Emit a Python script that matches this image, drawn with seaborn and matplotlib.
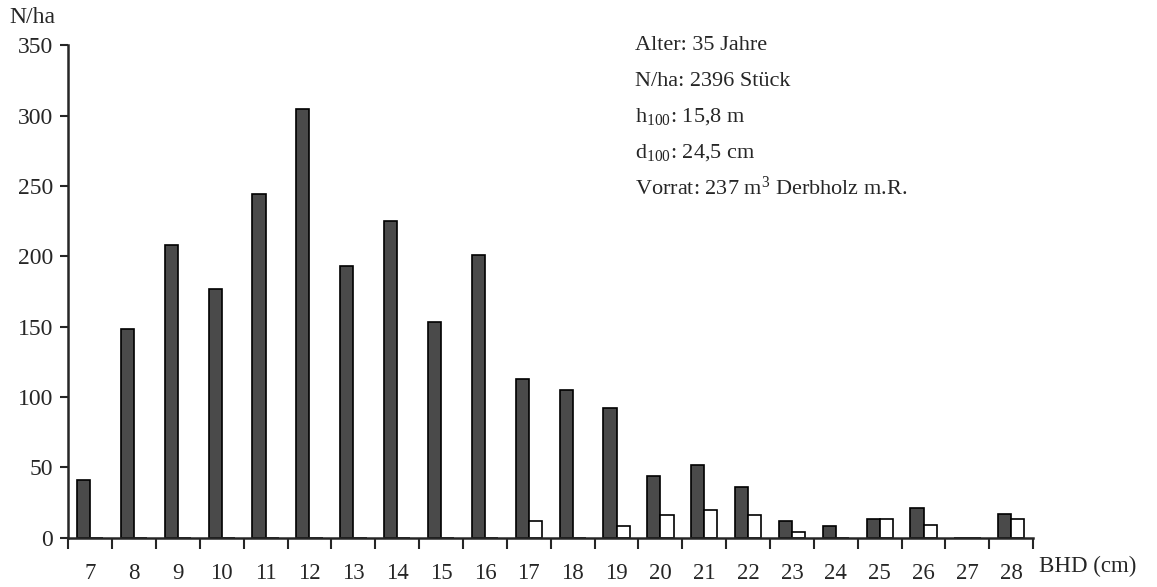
import matplotlib.pyplot as plt
import seaborn as sns
import pandas as pd

# BHD-Stufen (cm) und Stammzahlen je ha
bhd = [7, 8, 9, 10, 11, 12, 13, 14, 15, 16, 17, 18, 19, 20, 21, 22, 23, 24, 25, 26, 27, 28]
n_dunkel = [41, 148, 208, 177, 244, 305, 193, 225, 153, 201, 113, 105, 92, 44, 52, 36, 12, 8, 13, 21, 0, 17]
n_weiss = [0, 0, 0, 0, 0, 0, 0, 0, 0, 0, 12, 0, 8, 16, 20, 16, 4, 0, 13, 9, 0, 13]
y_ticks = [0, 50, 100, 150, 200, 250, 300, 350]
info = ["Alter: 35 Jahre",
        "N/ha: 2396 Stück",
        "h$_{100}$: 15,8 m",
        "d$_{100}$: 24,5 cm",
        "Vorrat: 237 m$^3$ Derbholz m.R."]

data = pd.DataFrame({
    'BHD': [str(b) for b in bhd] * 2,
    'N/ha': n_dunkel + n_weiss,
    'Gruppe': ['a'] * len(bhd) + ['b'] * len(bhd),
})

sns.set_style("ticks")
plt.rcParams['font.family'] = ['Liberation Serif', 'DejaVu Serif']
plt.rcParams['mathtext.fontset'] = 'custom'
plt.rcParams['mathtext.rm'] = 'Liberation Serif'
plt.rcParams['mathtext.it'] = 'Liberation Serif:italic'

fig = plt.figure(figsize=(11.57, 5.87), dpi=100)
ax = fig.add_axes([0.059, 0.084, 0.834, 0.839])

sns.barplot(data=data, x='BHD', y='N/ha', hue='Gruppe', ax=ax,
            palette=['#4a4a4a', 'white'], edgecolor='black', linewidth=1.2,
            width=0.6, legend=False)

ax.set_xlim(-0.5, len(bhd) - 0.5)
ax.set_ylim(0, 350)
ax.set_yticks(y_ticks)
ax.set_xlabel('')
ax.set_ylabel('')

# Teilstriche an den Klassengrenzen, Beschriftung in Klassenmitte
ax.set_xticks([i - 0.5 for i in range(len(bhd) + 1)], minor=True)
ax.tick_params(axis='x', which='major', length=0, pad=18, labelsize=16.5)
ax.tick_params(axis='x', which='minor', length=8, width=1.5, direction='out')
ax.tick_params(axis='y', length=6, width=1.5, labelsize=17, pad=5)
sns.despine(ax=ax)
ax.spines['left'].set_linewidth(1.8)
ax.spines['bottom'].set_linewidth(1.8)

fig.text(0.008, 0.97, "N/ha", fontsize=17, va='center')
fig.text(0.898, 0.035, "BHD (cm)", fontsize=16.5, va='center')

for i, zeile in enumerate(info):
    fig.text(0.549, 0.922 - i * 0.0605, zeile, fontsize=16, va='center')

plt.savefig("out.png", dpi=100)
